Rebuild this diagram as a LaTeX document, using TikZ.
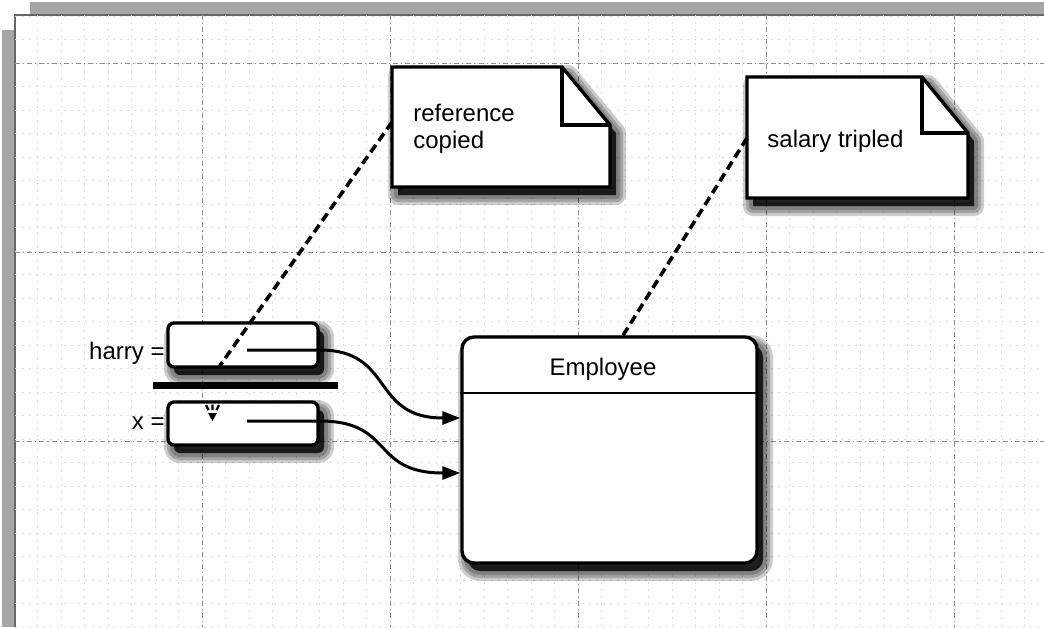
\documentclass[tikz,border=0pt]{standalone}
\usepackage{fontspec}
\setmainfont{Liberation Sans}
\usetikzlibrary{arrows.meta,calc}
\begin{document}
\begin{tikzpicture}[x=0.5pt,y=-0.5pt,
  minorgrid/.style={black!13,line width=0.35pt,dash pattern=on 1pt off 2.5pt},
  majorgrid/.style={black!45,line width=0.5pt,dash pattern=on 2.5pt off 1.5pt on 0.6pt off 1.5pt},
  shadowfill/.style={black,opacity=0.8},
  shadowstroke/.style={black,opacity=0.2,line join=round},
  boxstyle/.style={draw,fill=white,line width=1.7pt,inner sep=0pt},
  notestyle/.style={draw,fill=white,line width=1.7pt,line join=miter},
  lbl/.style={inner sep=0pt,font=\fontsize{12}{13.5}\selectfont},
  conn/.style={line width=1.5pt,-{Triangle[length=9pt,width=6.5pt]}},
  dashline/.style={line width=1.8pt,dash pattern=on 4.5pt off 2.5pt}
]
\useasboundingbox (0,0) rectangle (1044,627);
\clip (0,0) rectangle (1044,627);
\fill[white] (0,0) rectangle (1044,627);
% scanned border bands
\fill[black!35] (30,2) rectangle (1044,15);
\fill[black!35] (2,30) rectangle (15,627);
\draw[black!60,line width=0.6pt] (15,627) -- (15,15) -- (1044,15);
% grid
\begin{scope}
\clip (15,15) rectangle (1044,627);
\foreach \i in {0,...,44} \draw[minorgrid] ({14+23.5*\i},15) -- ({14+23.5*\i},627);
\foreach \j in {-2,...,24} \draw[minorgrid] (15,{63+23.5*\j}) -- (1044,{63+23.5*\j});
\foreach \xx in {202,390,578,766,954} \draw[majorgrid] (\xx,15) -- (\xx,627);
\foreach \yy in {63,252,441} \draw[majorgrid] (15,\yy) -- (1044,\yy);
\end{scope}
% shapes used for shadows
\def\noteA{(392,67) -- (562,67) -- (610,125) -- (610,187) -- (392,187) -- cycle}
\def\noteB{(747,77) -- (922,77) -- (968,133) -- (968,198) -- (747,198) -- cycle}
\def\empshape{[rounded corners=6pt] (462,337) rectangle (757,563)}
\def\harryshape{[rounded corners=3pt] (168,323) rectangle (318,367)}
\def\xshape{[rounded corners=3pt] (168,402) rectangle (318,445)}
\begin{scope}[shift={(6,8)}]
\foreach \s in {\noteA,\noteB,\empshape,\harryshape,\xshape}{
  \fill[shadowfill] \s;
  \foreach \w in {10,7,4}{ \draw[shadowstroke,line width=\w pt] \s; }
}
\end{scope}
% notes
\draw[notestyle] \noteA;
\draw[line width=1.7pt] (562,67) -- (562,125) -- (610,125);
\draw[notestyle] \noteB;
\draw[line width=1.7pt] (922,77) -- (922,133) -- (968,133);
\node[lbl,anchor=base west,align=left] (refnote) at (413,148) {reference\\copied};
\node[lbl,anchor=base west] (salnote) at (767,147) {salary tripled};
\coordinate (refL) at (392,122);
\coordinate (salL) at (747,138);
% variable boxes
\node[boxstyle,rounded corners=3pt,minimum width=75pt,minimum height=22pt] (harry) at (243,345) {};
\node[boxstyle,rounded corners=3pt,minimum width=75pt,minimum height=21.5pt] (xbox) at (243,423.5) {};
\node[lbl,anchor=base east] (harrylbl) at (165,359) {harry =};
\node[lbl,anchor=base east] (xlbl) at (165,429) {x =};
\coordinate (barL) at (153,385);
\coordinate (barR) at (338,385);
\draw[line width=3.5pt] (barL) -- (barR);
% employee object
\node[boxstyle,rounded corners=6pt,minimum width=147.5pt,minimum height=113pt] (emp) at (609.5,450) {};
\coordinate (sep) at (0,393);
\draw[line width=1pt] (emp.west |- sep) -- (emp.east |- sep);
\node[lbl,anchor=base] (empname) at (603,375) {Employee};
% references
\coordinate (hs) at (247,350);
\coordinate (xs) at (247,421);
\coordinate (ha) at (0,418);
\coordinate (xa) at (0,473);
\draw[conn] (hs) -- (harry.east |- hs) .. controls +(75,0) and +(-90,0) .. (emp.west |- ha);
\draw[conn] (xs) -- (xbox.east |- xs) .. controls +(75,0) and +(-90,0) .. (emp.west |- xa);
% note connectors
\coordinate (ht) at (250,323);
\coordinate (hin) at (219,367);
\draw[dashline] (refL) -- (ht) -- (hin);
\coordinate (empT) at (622,337);
\draw[dashline] (salL) -- (empT);
% small mark in x box
\fill (208,413) -- (217,413) -- (212.5,421) -- cycle;
\draw[line width=1.2pt] (206,405) -- (208.5,410) (212.5,404.5) -- (212.5,410) (219,405) -- (216.5,410);
\end{tikzpicture}
\end{document}
